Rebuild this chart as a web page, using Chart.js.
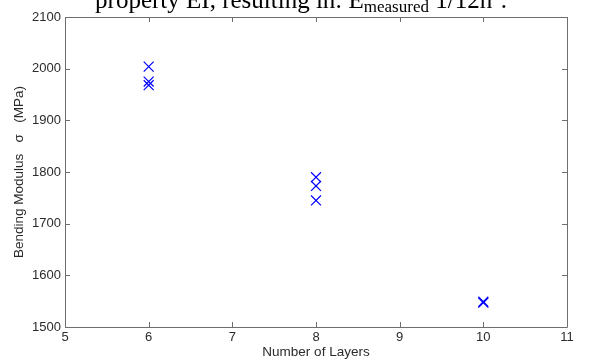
<!DOCTYPE html>
<html>
<head>
<meta charset="utf-8">
<script src="https://cdn.jsdelivr.net/npm/chart.js@4"></script>
<style>
html, body { margin: 0; padding: 0; background: #fff; }
#wrap { width: 595px; height: 360px; }
</style>
</head>
<body>
<div id="wrap"><canvas id="bendChart" width="595" height="360"></canvas></div>
<script>
const layers = [6, 6, 6, 8, 8, 8, 10, 10];
const modulus = [2004, 1975, 1968, 1790, 1773, 1745, 1549, 1547];
const xTicks = [5, 6, 7, 8, 9, 10, 11];
const yTicks = [1500, 1600, 1700, 1800, 1900, 2000, 2100];

const axisColor = "#6e6e6e";
const labelColor = "#2b2b2b";

// box + inward ticks like matlab
const boxPlugin = {
  id: "box",
  afterDraw(chart) {
    const { ctx, chartArea: a, scales } = chart;
    ctx.save();
    ctx.strokeStyle = axisColor;
    ctx.lineWidth = 1;
    ctx.beginPath();
    ctx.rect(Math.round(a.left) + 0.5, Math.round(a.top) + 0.5,
      Math.round(a.right - a.left), Math.round(a.bottom - a.top));
    xTicks.forEach(v => {
      const px = Math.round(scales.x.getPixelForValue(v)) + 0.5;
      ctx.moveTo(px, a.bottom); ctx.lineTo(px, a.bottom - 5);
      ctx.moveTo(px, a.top); ctx.lineTo(px, a.top + 5);
    });
    yTicks.forEach(v => {
      const py = Math.round(scales.y.getPixelForValue(v)) + 0.5;
      ctx.moveTo(a.left, py); ctx.lineTo(a.left + 5, py);
      ctx.moveTo(a.right, py); ctx.lineTo(a.right - 5, py);
    });
    ctx.stroke();
    ctx.restore();
  }
};

// cut-off title at the top of the figure
const titlePlugin = {
  id: "cutTitle",
  afterDraw(chart) {
    const { ctx } = chart;
    const big = "25px 'Liberation Serif', 'Times New Roman', serif";
    const small = "17px 'Liberation Serif', 'Times New Roman', serif";
    const parts = [
      { t: "property EI, resulting in: E", f: big, dy: 0 },
      { t: "measured", f: small, dy: 4 },
      { t: " 1/12h", f: big, dy: 0 },
      { t: "3", f: small, dy: -9 },
      { t: ".", f: big, dy: 0 }
    ];
    ctx.save();
    ctx.fillStyle = "#000";
    ctx.textBaseline = "alphabetic";
    let w = 0;
    parts.forEach(p => { ctx.font = p.f; w += ctx.measureText(p.t).width; });
    let x = 301 - w / 2;
    const base = 8;
    parts.forEach(p => {
      ctx.font = p.f;
      ctx.fillText(p.t, x, base + p.dy);
      x += ctx.measureText(p.t).width;
    });
    ctx.restore();
  }
};

const tickFont = { family: "'Liberation Sans', Arial, sans-serif", size: 13 };
const titleFont = { family: "'Liberation Sans', Arial, sans-serif", size: 13.5 };

new Chart(document.getElementById("bendChart"), {
  type: "scatter",
  data: {
    datasets: [{
      label: "Bending Modulus",
      data: layers.map((l, i) => ({ x: l, y: modulus[i] })),
      pointStyle: "crossRot",
      pointRadius: 7,
      pointHoverRadius: 7,
      borderColor: "#0000ff",
      backgroundColor: "#0000ff",
      borderWidth: 1.2
    }]
  },
  options: {
    responsive: false,
    animation: false,
    layout: { padding: { left: 0, top: 17, right: 28, bottom: 0 } },
    plugins: {
      legend: { display: false },
      tooltip: { enabled: false }
    },
    scales: {
      x: {
        type: "linear",
        min: 5,
        max: 11,
        afterBuildTicks: s => { s.ticks = xTicks.map(v => ({ value: v })); },
        afterFit: s => { s.height = 33; },
        grid: { display: false, drawTicks: false },
        border: { display: false },
        ticks: { padding: 3, color: labelColor, font: tickFont, callback: v => String(v) },
        title: {
          display: true,
          text: "Number of Layers",
          color: labelColor,
          padding: { top: 0, bottom: 0 },
          font: titleFont
        }
      },
      y: {
        type: "linear",
        min: 1500,
        max: 2100,
        afterBuildTicks: s => { s.ticks = yTicks.map(v => ({ value: v })); },
        afterFit: s => { s.width = 65; },
        grid: { display: false, drawTicks: false },
        border: { display: false },
        ticks: { padding: 4, color: labelColor, font: tickFont, callback: v => String(v) },
        title: {
          display: true,
          text: "Bending Modulus   \u03c3   (MPa)",
          color: labelColor,
          padding: { top: 11, bottom: 0 },
          font: titleFont
        }
      }
    }
  },
  plugins: [boxPlugin, titlePlugin]
});
</script>
</body>
</html>
